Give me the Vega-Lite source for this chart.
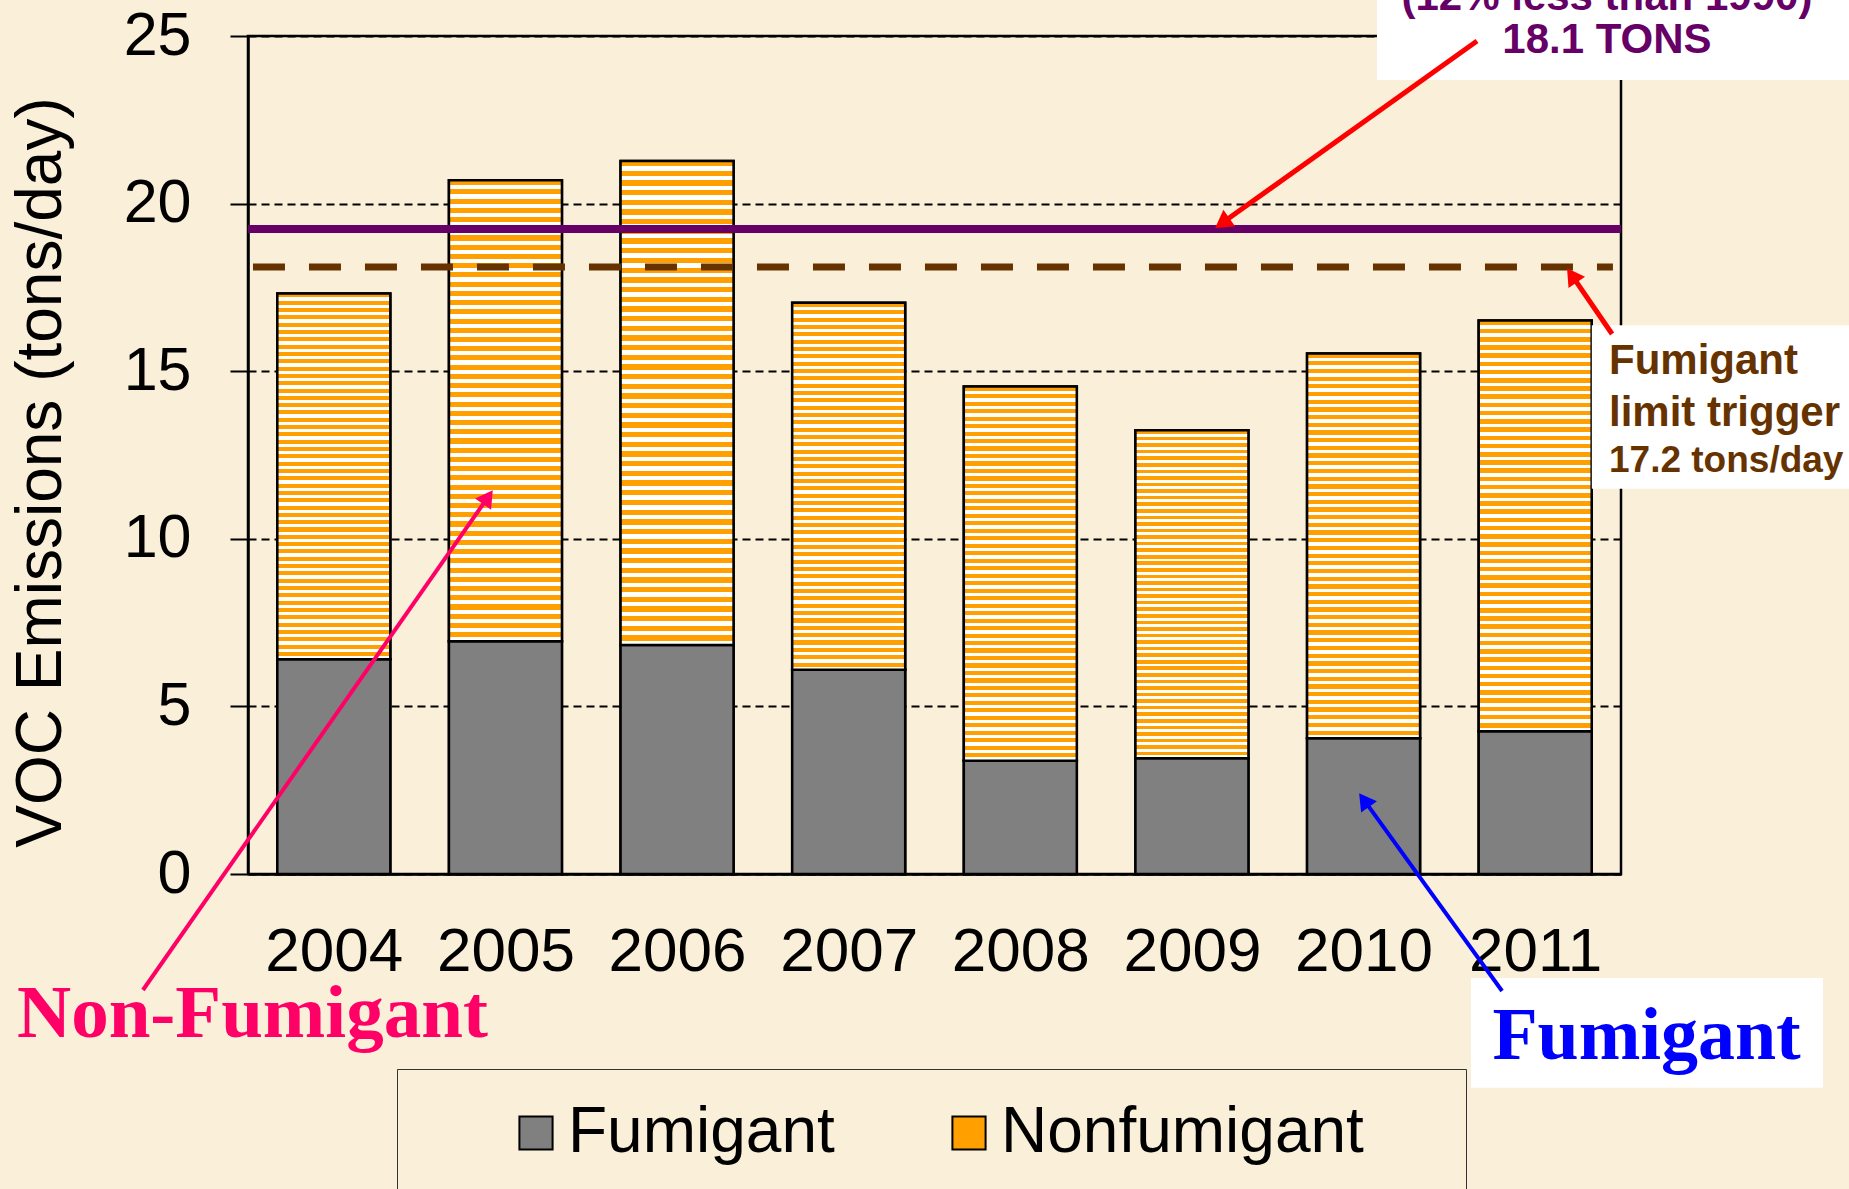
{
 "$schema": "https://vega.github.io/schema/vega-lite/v6.json",
 "width": 1373,
 "height": 838,
 "autosize": {"type": "none"},
 "padding": {"left": 248, "top": 36, "right": 228, "bottom": 315},
 "background": "#FAEFD8",
 "config": {"font": "Liberation Sans", "view": {"stroke": "#000000", "strokeWidth": 2.5}, "scale": {"continuousPadding": 0}},
 "layer": [
  {
   "data": {"values": [
    {"year": 2004, "cat": "Fumigant", "v": 6.41}, {"year": 2004, "cat": "Nonfumigant", "v": 10.91},
    {"year": 2005, "cat": "Fumigant", "v": 6.94}, {"year": 2005, "cat": "Nonfumigant", "v": 13.76},
    {"year": 2006, "cat": "Fumigant", "v": 6.83}, {"year": 2006, "cat": "Nonfumigant", "v": 14.44},
    {"year": 2007, "cat": "Fumigant", "v": 6.09}, {"year": 2007, "cat": "Nonfumigant", "v": 10.95},
    {"year": 2008, "cat": "Fumigant", "v": 3.38}, {"year": 2008, "cat": "Nonfumigant", "v": 11.16},
    {"year": 2009, "cat": "Fumigant", "v": 3.45}, {"year": 2009, "cat": "Nonfumigant", "v": 9.79},
    {"year": 2010, "cat": "Fumigant", "v": 4.05}, {"year": 2010, "cat": "Nonfumigant", "v": 11.48},
    {"year": 2011, "cat": "Fumigant", "v": 4.26}, {"year": 2011, "cat": "Nonfumigant", "v": 12.25}
   ]},
   "layer": [
    {
     "mark": {"type": "bar", "stroke": "#000000", "strokeWidth": 2.5, "width": 113},
     "encoding": {
      "x": {"field": "year", "type": "quantitative", "scale": {"domain": [2003.5, 2011.5], "nice": false, "zero": false, "padding": 0},
            "axis": {"title": null, "values": [2004, 2005, 2006, 2007, 2008, 2009, 2010, 2011], "format": "d", "ticks": false, "tickSize": 0, "labelFontSize": 62, "labelColor": "#000000", "labelPadding": 96, "labelBaseline": "alphabetic", "labelAngle": 0, "labelFlush": false, "labelOverlap": false, "domainColor": "#000000", "domainWidth": 2.5, "grid": false}},
      "y": {"field": "v", "type": "quantitative", "stack": "zero", "scale": {"domain": [0, 25], "nice": false},
            "axis": {"title": "VOC Emissions (tons/day)", "values": [0, 5, 10, 15, 20, 25], "grid": true, "gridDash": [8, 5], "gridColor": "#000000", "gridWidth": 2, "gridOpacity": 1, "tickSize": 18, "tickWidth": 2, "tickColor": "#000000", "domainColor": "#000000", "domainWidth": 2.5, "labelFontSize": 61, "labelColor": "#000000", "labelPadding": 39, "labelFlush": false, "titleFontSize": 64, "titleFontWeight": "normal", "titleColor": "#000000", "titleX": -207, "titleY": 436, "titleAngle": -90, "titleBaseline": "middle", "titleAlign": "center", "titleLimit": 1200}},
      "order": {"field": "cat", "sort": "ascending"},
      "color": {"field": "cat", "type": "nominal", "scale": {"domain": ["Fumigant", "Nonfumigant"], "range": ["#808080", "#FFA000"]},
            "legend": {"orient": "none", "legendX": 149, "legendY": 1033, "direction": "horizontal", "title": " ", "titleOrient": "right", "titlePadding": 70, "titleFontSize": 10, "labelFontSize": 64, "labelFont": "Liberation Sans", "labelColor": "#000000", "labelLimit": 900, "labelOffset": 0, "symbolType": "square", "symbolSize": 1100, "symbolStrokeColor": "#000000", "symbolStrokeWidth": 2, "symbolOffset": 75, "columnPadding": 27, "padding": 32, "strokeColor": "#333333", "fillColor": "#FAEFD8"}}
     }
    },
    {
     "mark": {"type": "bar", "stroke": "#000000", "strokeWidth": 2.5, "width": 113},
     "encoding": {
      "x": {"field": "year", "type": "quantitative", "scale": {"domain": [2003.5, 2011.5], "nice": false, "zero": false, "padding": 0}},
      "y": {"field": "v", "type": "quantitative", "stack": "zero", "scale": {"domain": [0, 25], "nice": false}},
      "order": {"field": "cat", "sort": "ascending"},
      "detail": {"field": "cat"},
      "fill": {"condition": {"test": "datum.cat === 'Nonfumigant'", "value": {"gradient": "linear", "x1": 0, "y1": 0, "x2": 0, "y2": 1, "stops": [
       {"offset":0,"color":"#FFA000"},{"offset":0.011,"color":"#FFA000"},{"offset":0.011,"color":"#FFFFFF"},{"offset":0.02,"color":"#FFFFFF"},
       {"offset":0.02,"color":"#FFA000"},{"offset":0.031,"color":"#FFA000"},{"offset":0.031,"color":"#FFFFFF"},{"offset":0.04,"color":"#FFFFFF"},
       {"offset":0.04,"color":"#FFA000"},{"offset":0.051,"color":"#FFA000"},{"offset":0.051,"color":"#FFFFFF"},{"offset":0.06,"color":"#FFFFFF"},
       {"offset":0.06,"color":"#FFA000"},{"offset":0.071,"color":"#FFA000"},{"offset":0.071,"color":"#FFFFFF"},{"offset":0.08,"color":"#FFFFFF"},
       {"offset":0.08,"color":"#FFA000"},{"offset":0.091,"color":"#FFA000"},{"offset":0.091,"color":"#FFFFFF"},{"offset":0.1,"color":"#FFFFFF"},
       {"offset":0.1,"color":"#FFA000"},{"offset":0.111,"color":"#FFA000"},{"offset":0.111,"color":"#FFFFFF"},{"offset":0.12,"color":"#FFFFFF"},
       {"offset":0.12,"color":"#FFA000"},{"offset":0.131,"color":"#FFA000"},{"offset":0.131,"color":"#FFFFFF"},{"offset":0.14,"color":"#FFFFFF"},
       {"offset":0.14,"color":"#FFA000"},{"offset":0.151,"color":"#FFA000"},{"offset":0.151,"color":"#FFFFFF"},{"offset":0.16,"color":"#FFFFFF"},
       {"offset":0.16,"color":"#FFA000"},{"offset":0.171,"color":"#FFA000"},{"offset":0.171,"color":"#FFFFFF"},{"offset":0.18,"color":"#FFFFFF"},
       {"offset":0.18,"color":"#FFA000"},{"offset":0.191,"color":"#FFA000"},{"offset":0.191,"color":"#FFFFFF"},{"offset":0.2,"color":"#FFFFFF"},
       {"offset":0.2,"color":"#FFA000"},{"offset":0.211,"color":"#FFA000"},{"offset":0.211,"color":"#FFFFFF"},{"offset":0.22,"color":"#FFFFFF"},
       {"offset":0.22,"color":"#FFA000"},{"offset":0.231,"color":"#FFA000"},{"offset":0.231,"color":"#FFFFFF"},{"offset":0.24,"color":"#FFFFFF"},
       {"offset":0.24,"color":"#FFA000"},{"offset":0.251,"color":"#FFA000"},{"offset":0.251,"color":"#FFFFFF"},{"offset":0.26,"color":"#FFFFFF"},
       {"offset":0.26,"color":"#FFA000"},{"offset":0.271,"color":"#FFA000"},{"offset":0.271,"color":"#FFFFFF"},{"offset":0.28,"color":"#FFFFFF"},
       {"offset":0.28,"color":"#FFA000"},{"offset":0.291,"color":"#FFA000"},{"offset":0.291,"color":"#FFFFFF"},{"offset":0.3,"color":"#FFFFFF"},
       {"offset":0.3,"color":"#FFA000"},{"offset":0.311,"color":"#FFA000"},{"offset":0.311,"color":"#FFFFFF"},{"offset":0.32,"color":"#FFFFFF"},
       {"offset":0.32,"color":"#FFA000"},{"offset":0.331,"color":"#FFA000"},{"offset":0.331,"color":"#FFFFFF"},{"offset":0.34,"color":"#FFFFFF"},
       {"offset":0.34,"color":"#FFA000"},{"offset":0.351,"color":"#FFA000"},{"offset":0.351,"color":"#FFFFFF"},{"offset":0.36,"color":"#FFFFFF"},
       {"offset":0.36,"color":"#FFA000"},{"offset":0.371,"color":"#FFA000"},{"offset":0.371,"color":"#FFFFFF"},{"offset":0.38,"color":"#FFFFFF"},
       {"offset":0.38,"color":"#FFA000"},{"offset":0.391,"color":"#FFA000"},{"offset":0.391,"color":"#FFFFFF"},{"offset":0.4,"color":"#FFFFFF"},
       {"offset":0.4,"color":"#FFA000"},{"offset":0.411,"color":"#FFA000"},{"offset":0.411,"color":"#FFFFFF"},{"offset":0.42,"color":"#FFFFFF"},
       {"offset":0.42,"color":"#FFA000"},{"offset":0.431,"color":"#FFA000"},{"offset":0.431,"color":"#FFFFFF"},{"offset":0.44,"color":"#FFFFFF"},
       {"offset":0.44,"color":"#FFA000"},{"offset":0.451,"color":"#FFA000"},{"offset":0.451,"color":"#FFFFFF"},{"offset":0.46,"color":"#FFFFFF"},
       {"offset":0.46,"color":"#FFA000"},{"offset":0.471,"color":"#FFA000"},{"offset":0.471,"color":"#FFFFFF"},{"offset":0.48,"color":"#FFFFFF"},
       {"offset":0.48,"color":"#FFA000"},{"offset":0.491,"color":"#FFA000"},{"offset":0.491,"color":"#FFFFFF"},{"offset":0.5,"color":"#FFFFFF"},
       {"offset":0.5,"color":"#FFA000"},{"offset":0.511,"color":"#FFA000"},{"offset":0.511,"color":"#FFFFFF"},{"offset":0.52,"color":"#FFFFFF"},
       {"offset":0.52,"color":"#FFA000"},{"offset":0.531,"color":"#FFA000"},{"offset":0.531,"color":"#FFFFFF"},{"offset":0.54,"color":"#FFFFFF"},
       {"offset":0.54,"color":"#FFA000"},{"offset":0.551,"color":"#FFA000"},{"offset":0.551,"color":"#FFFFFF"},{"offset":0.56,"color":"#FFFFFF"},
       {"offset":0.56,"color":"#FFA000"},{"offset":0.571,"color":"#FFA000"},{"offset":0.571,"color":"#FFFFFF"},{"offset":0.58,"color":"#FFFFFF"},
       {"offset":0.58,"color":"#FFA000"},{"offset":0.591,"color":"#FFA000"},{"offset":0.591,"color":"#FFFFFF"},{"offset":0.6,"color":"#FFFFFF"},
       {"offset":0.6,"color":"#FFA000"},{"offset":0.611,"color":"#FFA000"},{"offset":0.611,"color":"#FFFFFF"},{"offset":0.62,"color":"#FFFFFF"},
       {"offset":0.62,"color":"#FFA000"},{"offset":0.631,"color":"#FFA000"},{"offset":0.631,"color":"#FFFFFF"},{"offset":0.64,"color":"#FFFFFF"},
       {"offset":0.64,"color":"#FFA000"},{"offset":0.651,"color":"#FFA000"},{"offset":0.651,"color":"#FFFFFF"},{"offset":0.66,"color":"#FFFFFF"},
       {"offset":0.66,"color":"#FFA000"},{"offset":0.671,"color":"#FFA000"},{"offset":0.671,"color":"#FFFFFF"},{"offset":0.68,"color":"#FFFFFF"},
       {"offset":0.68,"color":"#FFA000"},{"offset":0.691,"color":"#FFA000"},{"offset":0.691,"color":"#FFFFFF"},{"offset":0.7,"color":"#FFFFFF"},
       {"offset":0.7,"color":"#FFA000"},{"offset":0.711,"color":"#FFA000"},{"offset":0.711,"color":"#FFFFFF"},{"offset":0.72,"color":"#FFFFFF"},
       {"offset":0.72,"color":"#FFA000"},{"offset":0.731,"color":"#FFA000"},{"offset":0.731,"color":"#FFFFFF"},{"offset":0.74,"color":"#FFFFFF"},
       {"offset":0.74,"color":"#FFA000"},{"offset":0.751,"color":"#FFA000"},{"offset":0.751,"color":"#FFFFFF"},{"offset":0.76,"color":"#FFFFFF"},
       {"offset":0.76,"color":"#FFA000"},{"offset":0.771,"color":"#FFA000"},{"offset":0.771,"color":"#FFFFFF"},{"offset":0.78,"color":"#FFFFFF"},
       {"offset":0.78,"color":"#FFA000"},{"offset":0.791,"color":"#FFA000"},{"offset":0.791,"color":"#FFFFFF"},{"offset":0.8,"color":"#FFFFFF"},
       {"offset":0.8,"color":"#FFA000"},{"offset":0.811,"color":"#FFA000"},{"offset":0.811,"color":"#FFFFFF"},{"offset":0.82,"color":"#FFFFFF"},
       {"offset":0.82,"color":"#FFA000"},{"offset":0.831,"color":"#FFA000"},{"offset":0.831,"color":"#FFFFFF"},{"offset":0.84,"color":"#FFFFFF"},
       {"offset":0.84,"color":"#FFA000"},{"offset":0.851,"color":"#FFA000"},{"offset":0.851,"color":"#FFFFFF"},{"offset":0.86,"color":"#FFFFFF"},
       {"offset":0.86,"color":"#FFA000"},{"offset":0.871,"color":"#FFA000"},{"offset":0.871,"color":"#FFFFFF"},{"offset":0.88,"color":"#FFFFFF"},
       {"offset":0.88,"color":"#FFA000"},{"offset":0.891,"color":"#FFA000"},{"offset":0.891,"color":"#FFFFFF"},{"offset":0.9,"color":"#FFFFFF"},
       {"offset":0.9,"color":"#FFA000"},{"offset":0.911,"color":"#FFA000"},{"offset":0.911,"color":"#FFFFFF"},{"offset":0.92,"color":"#FFFFFF"},
       {"offset":0.92,"color":"#FFA000"},{"offset":0.931,"color":"#FFA000"},{"offset":0.931,"color":"#FFFFFF"},{"offset":0.94,"color":"#FFFFFF"},
       {"offset":0.94,"color":"#FFA000"},{"offset":0.951,"color":"#FFA000"},{"offset":0.951,"color":"#FFFFFF"},{"offset":0.96,"color":"#FFFFFF"},
       {"offset":0.96,"color":"#FFA000"},{"offset":0.971,"color":"#FFA000"},{"offset":0.971,"color":"#FFFFFF"},{"offset":0.98,"color":"#FFFFFF"},
       {"offset":0.98,"color":"#FFA000"},{"offset":0.991,"color":"#FFA000"},{"offset":0.991,"color":"#FFFFFF"},{"offset":1,"color":"#FFFFFF"}
      ]}}, "value": "#808080"}
     }
    }
   ]
  },
  {
   "data": {"values": [{}]},
   "layer": [
    {"mark": {"type": "rule", "color": "#660066", "strokeWidth": 8},
     "encoding": {
      "x": {"datum": 2003.5, "type": "quantitative", "scale": {"domain": [2003.5, 2011.5], "nice": false, "zero": false, "padding": 0}},
      "x2": {"datum": 2011.5},
      "y": {"datum": 19.24, "type": "quantitative", "scale": {"domain": [0, 25], "nice": false}}}},
    {"mark": {"type": "rule", "color": "#663300", "strokeWidth": 7, "strokeDash": [32, 24]},
     "encoding": {
      "x": {"datum": 2003.529, "type": "quantitative", "scale": {"domain": [2003.5, 2011.5], "nice": false, "zero": false, "padding": 0}},
      "x2": {"datum": 2011.453},
      "y": {"datum": 18.11, "type": "quantitative", "scale": {"domain": [0, 25], "nice": false}}}},
    {"mark": {"type": "rect", "color": "#FFFFFF"},
     "encoding": {
      "x": {"datum": 2010.078, "type": "quantitative", "scale": {"domain": [2003.5, 2011.5], "nice": false, "zero": false, "padding": 0}},
      "x2": {"datum": 2013.0},
      "y": {"datum": 23.69, "type": "quantitative", "scale": {"domain": [0, 25], "nice": false}},
      "y2": {"datum": 27.5}}},
    {"mark": {"type": "rect", "color": "#FFFFFF"},
     "encoding": {
      "x": {"datum": 2011.33, "type": "quantitative", "scale": {"domain": [2003.5, 2011.5], "nice": false, "zero": false, "padding": 0}},
      "x2": {"datum": 2013.0},
      "y": {"datum": 11.49, "type": "quantitative", "scale": {"domain": [0, 25], "nice": false}},
      "y2": {"datum": 16.37}}},
    {"mark": {"type": "rect", "color": "#FFFFFF"},
     "encoding": {
      "x": {"datum": 2010.626, "type": "quantitative", "scale": {"domain": [2003.5, 2011.5], "nice": false, "zero": false, "padding": 0}},
      "x2": {"datum": 2012.677},
      "y": {"datum": -6.38, "type": "quantitative", "scale": {"domain": [0, 25], "nice": false}},
      "y2": {"datum": -3.10}}},
    {"mark": {"type": "text", "text": "(12% less than 1990)", "font": "Liberation Sans", "fontSize": 42, "fontWeight": "bold", "color": "#660066", "align": "center", "baseline": "alphabetic"},
     "encoding": {
      "x": {"datum": 2011.418, "type": "quantitative", "scale": {"domain": [2003.5, 2011.5], "nice": false, "zero": false, "padding": 0}},
      "y": {"datum": 25.78, "type": "quantitative", "scale": {"domain": [0, 25], "nice": false}}}},
    {"mark": {"type": "text", "text": "18.1 TONS", "font": "Liberation Sans", "fontSize": 42, "fontWeight": "bold", "color": "#660066", "align": "center", "baseline": "alphabetic"},
     "encoding": {
      "x": {"datum": 2011.418, "type": "quantitative", "scale": {"domain": [2003.5, 2011.5], "nice": false, "zero": false, "padding": 0}},
      "y": {"datum": 24.49, "type": "quantitative", "scale": {"domain": [0, 25], "nice": false}}}},
    {"mark": {"type": "text", "text": "Fumigant", "font": "Liberation Sans", "fontSize": 42, "fontWeight": "bold", "color": "#663300", "align": "left", "baseline": "alphabetic"},
     "encoding": {
      "x": {"datum": 2011.43, "type": "quantitative", "scale": {"domain": [2003.5, 2011.5], "nice": false, "zero": false, "padding": 0}},
      "y": {"datum": 14.92, "type": "quantitative", "scale": {"domain": [0, 25], "nice": false}}}},
    {"mark": {"type": "text", "text": "limit trigger", "font": "Liberation Sans", "fontSize": 42, "fontWeight": "bold", "color": "#663300", "align": "left", "baseline": "alphabetic"},
     "encoding": {
      "x": {"datum": 2011.43, "type": "quantitative", "scale": {"domain": [2003.5, 2011.5], "nice": false, "zero": false, "padding": 0}},
      "y": {"datum": 13.37, "type": "quantitative", "scale": {"domain": [0, 25], "nice": false}}}},
    {"mark": {"type": "text", "text": "17.2 tons/day", "font": "Liberation Sans", "fontSize": 37, "fontWeight": "bold", "color": "#663300", "align": "left", "baseline": "alphabetic"},
     "encoding": {
      "x": {"datum": 2011.43, "type": "quantitative", "scale": {"domain": [2003.5, 2011.5], "nice": false, "zero": false, "padding": 0}},
      "y": {"datum": 11.99, "type": "quantitative", "scale": {"domain": [0, 25], "nice": false}}}},
    {"mark": {"type": "text", "text": "Non-Fumigant", "font": "Liberation Serif", "fontSize": 75, "fontWeight": "bold", "color": "#FF0066", "align": "left", "baseline": "alphabetic"},
     "encoding": {
      "x": {"datum": 2002.154, "type": "quantitative", "scale": {"domain": [2003.5, 2011.5], "nice": false, "zero": false, "padding": 0}},
      "y": {"datum": -4.863, "type": "quantitative", "scale": {"domain": [0, 25], "nice": false}}}},
    {"mark": {"type": "text", "text": "Fumigant", "font": "Liberation Serif", "fontSize": 74, "fontWeight": "bold", "color": "#0000FF", "align": "center", "baseline": "alphabetic"},
     "encoding": {
      "x": {"datum": 2011.649, "type": "quantitative", "scale": {"domain": [2003.5, 2011.5], "nice": false, "zero": false, "padding": 0}},
      "y": {"datum": -5.52, "type": "quantitative", "scale": {"domain": [0, 25], "nice": false}}}},
    {"mark": {"type": "rule", "color": "#FF0000", "strokeWidth": 5},
     "encoding": {
      "x": {"datum": 2010.661, "type": "quantitative", "scale": {"domain": [2003.5, 2011.5], "nice": false, "zero": false, "padding": 0}},
      "x2": {"datum": 2009.176},
      "y": {"datum": 24.85, "type": "quantitative", "scale": {"domain": [0, 25], "nice": false}},
      "y2": {"datum": 19.42}}},
    {"mark": {"type": "point", "shape": "triangle-up", "filled": true, "opacity": 1, "color": "#FF0000", "size": 400, "angle": -125.5},
     "encoding": {
      "x": {"datum": 2009.176, "type": "quantitative", "scale": {"domain": [2003.5, 2011.5], "nice": false, "zero": false, "padding": 0}},
      "y": {"datum": 19.42, "type": "quantitative", "scale": {"domain": [0, 25], "nice": false}}}},
    {"mark": {"type": "rule", "color": "#FF0000", "strokeWidth": 5},
     "encoding": {
      "x": {"datum": 2011.448, "type": "quantitative", "scale": {"domain": [2003.5, 2011.5], "nice": false, "zero": false, "padding": 0}},
      "x2": {"datum": 2011.214},
      "y": {"datum": 16.11, "type": "quantitative", "scale": {"domain": [0, 25], "nice": false}},
      "y2": {"datum": 17.86}}},
    {"mark": {"type": "point", "shape": "triangle-up", "filled": true, "opacity": 1, "color": "#FF0000", "size": 400, "angle": -34.3},
     "encoding": {
      "x": {"datum": 2011.214, "type": "quantitative", "scale": {"domain": [2003.5, 2011.5], "nice": false, "zero": false, "padding": 0}},
      "y": {"datum": 17.86, "type": "quantitative", "scale": {"domain": [0, 25], "nice": false}}}},
    {"mark": {"type": "rule", "color": "#FF0066", "strokeWidth": 4},
     "encoding": {
      "x": {"datum": 2002.888, "type": "quantitative", "scale": {"domain": [2003.5, 2011.5], "nice": false, "zero": false, "padding": 0}},
      "x2": {"datum": 2004.898},
      "y": {"datum": -3.46, "type": "quantitative", "scale": {"domain": [0, 25], "nice": false}},
      "y2": {"datum": 11.24}}},
    {"mark": {"type": "point", "shape": "triangle-up", "filled": true, "opacity": 1, "color": "#FF0066", "size": 380, "angle": 35},
     "encoding": {
      "x": {"datum": 2004.898, "type": "quantitative", "scale": {"domain": [2003.5, 2011.5], "nice": false, "zero": false, "padding": 0}},
      "y": {"datum": 11.24, "type": "quantitative", "scale": {"domain": [0, 25], "nice": false}}}},
    {"mark": {"type": "rule", "color": "#0000FF", "strokeWidth": 4},
     "encoding": {
      "x": {"datum": 2010.807, "type": "quantitative", "scale": {"domain": [2003.5, 2011.5], "nice": false, "zero": false, "padding": 0}},
      "x2": {"datum": 2010.003},
      "y": {"datum": -3.49, "type": "quantitative", "scale": {"domain": [0, 25], "nice": false}},
      "y2": {"datum": 2.206}}},
    {"mark": {"type": "point", "shape": "triangle-up", "filled": true, "opacity": 1, "color": "#0000FF", "size": 380, "angle": -35.8},
     "encoding": {
      "x": {"datum": 2010.003, "type": "quantitative", "scale": {"domain": [2003.5, 2011.5], "nice": false, "zero": false, "padding": 0}},
      "y": {"datum": 2.206, "type": "quantitative", "scale": {"domain": [0, 25], "nice": false}}}}
   ]
  }
 ]
}
